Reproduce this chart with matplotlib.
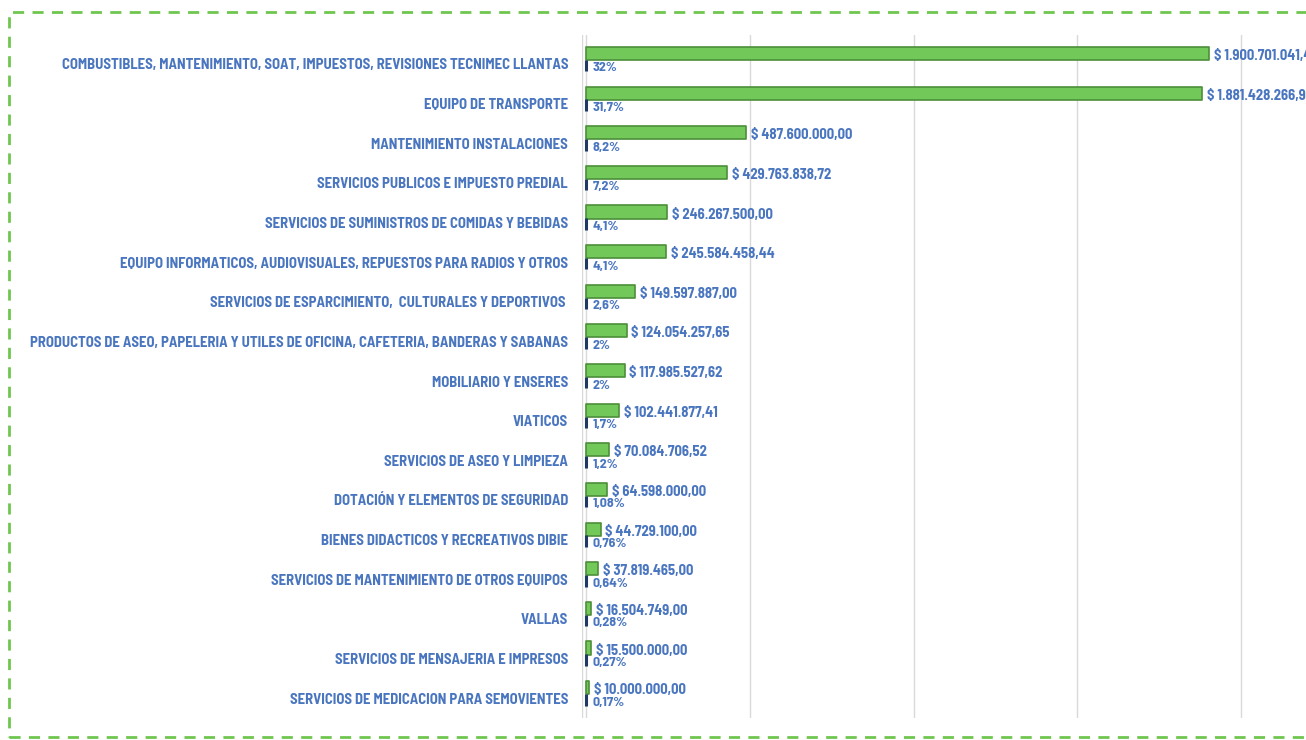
import matplotlib.pyplot as plt
from matplotlib.patches import Rectangle

categorias = [
    "COMBUSTIBLES, MANTENIMIENTO, SOAT, IMPUESTOS, REVISIONES TECNIMEC LLANTAS",
    "EQUIPO DE TRANSPORTE",
    "MANTENIMIENTO INSTALACIONES",
    "SERVICIOS PUBLICOS E IMPUESTO PREDIAL",
    "SERVICIOS DE SUMINISTROS DE COMIDAS Y BEBIDAS",
    "EQUIPO INFORMATICOS, AUDIOVISUALES, REPUESTOS PARA RADIOS Y OTROS",
    "SERVICIOS DE ESPARCIMIENTO,  CULTURALES Y DEPORTIVOS ",
    "PRODUCTOS DE ASEO, PAPELERIA Y UTILES DE OFICINA, CAFETERIA, BANDERAS Y SABANAS",
    "MOBILIARIO Y ENSERES",
    "VIATICOS",
    "SERVICIOS DE ASEO Y LIMPIEZA",
    "DOTACIÓN Y ELEMENTOS DE SEGURIDAD",
    "BIENES DIDACTICOS Y RECREATIVOS DIBIE",
    "SERVICIOS DE MANTENIMIENTO DE OTROS EQUIPOS",
    "VALLAS",
    "SERVICIOS DE MENSAJERIA E IMPRESOS",
    "SERVICIOS DE MEDICACION PARA SEMOVIENTES",
]

valores = [
    1900701041.40, 1881428266.92, 487600000.00, 429763838.72,
    246267500.00, 245584458.44, 149597887.00, 124054257.65,
    117985527.62, 102441877.41, 70084706.52, 64598000.00,
    44729100.00, 37819465.00, 16504749.00, 15500000.00, 10000000.00,
]

porcentajes = [32, 31.7, 8.2, 7.2, 4.1, 4.1, 2.6, 2, 2, 1.7, 1.2, 1.08,
               0.76, 0.64, 0.28, 0.27, 0.17]


def pesos(v):
    s = f"{v:,.2f}"
    s = s.replace(",", "X").replace(".", ",").replace("X", ".")
    return "$ " + s


def pct(p):
    return f"{p:g}".replace(".", ",") + "%"


azul = "#4a76c0"
verde = "#72c95a"
verde_borde = "#4b8f3a"
azul_osc = "#1f3864"

plt.rcParams['font.family'] = ['Barlow Semi Condensed', 'Liberation Sans', 'DejaVu Sans']
peso = 'bold'

fig = plt.figure(figsize=(13.06, 7.40), dpi=100)
ax = fig.add_axes([582 / 1306, 22 / 740, 1 - 582 / 1306, 683 / 740])

n = len(categorias)
pos = list(range(n))

ax.barh([p - 0.265 for p in pos], valores, height=0.33, color=verde,
        edgecolor=verde_borde, linewidth=1.2, joinstyle='round', zorder=3)
ax.barh([p + 0.04 for p in pos], porcentajes, height=0.29, color=azul_osc,
        edgecolor=azul_osc, linewidth=2.2, zorder=3)

for p, v, pc in zip(pos, valores, porcentajes):
    ax.text(v + 0.015e9, p - 0.2, pesos(v), color=azul, fontsize=10.5,
            fontweight=peso, va='center', ha='left', zorder=4)
    ax.text(0.021e9, p + 0.1, pct(pc), color=azul, fontsize=10,
            fontweight=peso, va='center', ha='left', zorder=4)

ax.set_ylim(n - 0.5, -0.73)
ax.set_xlim(-0.012e9, 2.198e9)
ax.set_yticks(pos)
ax.set_yticklabels(categorias, color=azul, fontsize=10.6, fontweight=peso)
ax.tick_params(axis='y', length=0, pad=10)
ax.set_xticks([0, 0.5e9, 1.0e9, 1.5e9, 2.0e9])
ax.tick_params(axis='x', length=0, labelbottom=False)
ax.grid(axis='x', color='#d9d9d9', linewidth=1, zorder=0)
ax.axvline(-0.011e9, color='#d9d9d9', linewidth=1, zorder=0)
for s in ax.spines.values():
    s.set_visible(False)

# borde punteado del grafico
borde = Rectangle((0.007, 0.004), 1.2, 0.98, transform=fig.transFigure,
                  fill=False, edgecolor='#6fc64f', linewidth=2,
                  linestyle=(0, (4, 3)))
fig.patches.append(borde)

fig.savefig("out.png", dpi=100)
